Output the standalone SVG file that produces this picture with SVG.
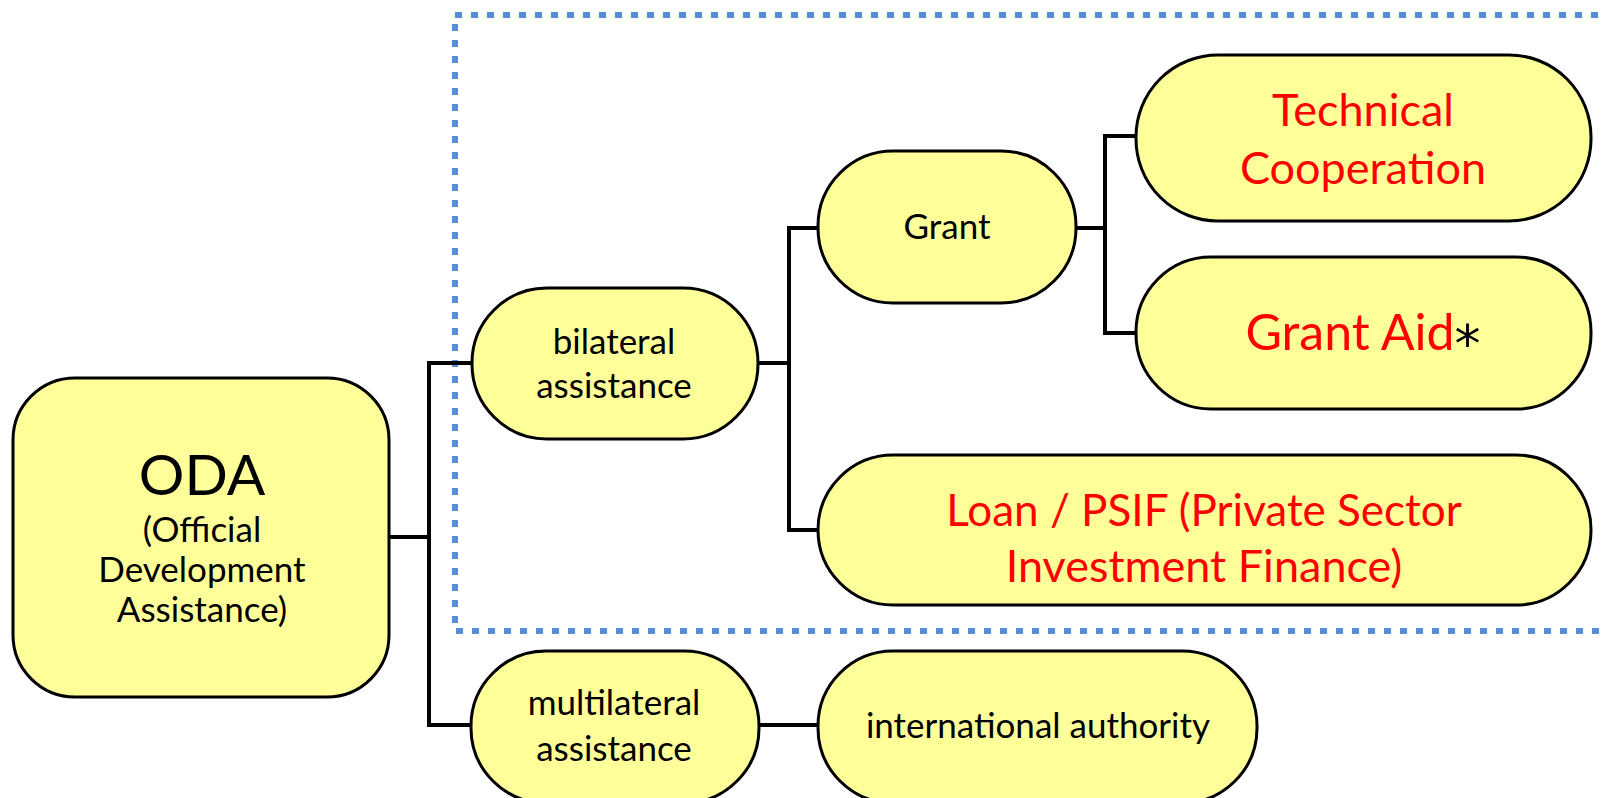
<svg xmlns="http://www.w3.org/2000/svg" width="1602" height="798" viewBox="0 0 1602 798">
<style>
.node{fill:#FFFF99;stroke:#000;stroke-width:3}
.t{font-family:Lato,"Open Sans",sans-serif;fill:#000;text-anchor:middle}
.s{font-size:35px}
.r{fill:#FF0000}
.conn{fill:none;stroke:#000;stroke-width:4}
</style>
<rect width="1602" height="798" fill="#fff"/>
<rect x="455" y="15" width="1160" height="616" fill="none" stroke="#558ED5" stroke-width="6" stroke-dasharray="7 9"/>
<g id="connectors">
<polyline class="conn" points="389,537 429,537"/>
<polyline class="conn" points="472,363 429,363 429,725 472,725"/>
<polyline class="conn" points="758,363 789,363"/>
<polyline class="conn" points="818,228 789,228 789,530 818,530"/>
<polyline class="conn" points="1076,228 1105,228"/>
<polyline class="conn" points="1136,136 1105,136 1105,333 1136,333"/>
<polyline class="conn" points="759,725 818,725"/>
</g>
<g id="oda">
<rect class="node" x="13" y="378" width="376" height="319" rx="62" ry="62"/>
<text class="t" x="202" y="495" font-size="57">ODA</text>
<text class="t" x="202" y="542" font-size="35">(Official</text>
<text class="t" x="202" y="582" font-size="35">Development</text>
<text class="t" x="202" y="622" font-size="35">Assistance)</text>
</g>
<g id="bilateral">
<rect class="node" x="472" y="288" width="286" height="151" rx="75" ry="75"/>
<text class="t s" x="614" y="354">bilateral</text>
<text class="t s" x="614" y="398">assistance</text>
</g>
<g id="grant">
<rect class="node" x="818" y="151" width="258" height="152" rx="75" ry="75"/>
<text class="t s" x="947" y="239">Grant</text>
</g>
<g id="techcoop">
<rect class="node" x="1136" y="55" width="455" height="166" rx="82" ry="82"/>
<text class="t r" x="1363" y="126" font-size="45">Technical</text>
<text class="t r" x="1363" y="184" font-size="45">Cooperation</text>
</g>
<g id="grantaid">
<rect class="node" x="1136" y="257" width="455" height="152" rx="75" ry="75"/>
<text class="t" x="1363" y="350" font-size="50"><tspan class="r">Grant Aid</tspan><tspan font-family="DejaVu Sans" font-size="52" dy="12">*</tspan></text>
</g>
<g id="loan">
<rect class="node" x="818" y="455" width="773" height="150" rx="75" ry="75"/>
<text class="t r" x="1204" y="526" font-size="44">Loan / PSIF (Private Sector</text>
<text class="t r" x="1204" y="582" font-size="45">Investment Finance)</text>
</g>
<g id="multilateral">
<rect class="node" x="471" y="651" width="288" height="152" rx="75" ry="75"/>
<text class="t s" x="614" y="715">multilateral</text>
<text class="t s" x="614" y="761">assistance</text>
</g>
<g id="intl">
<rect class="node" x="818" y="651" width="439" height="152" rx="75" ry="75"/>
<text class="t s" x="1038" y="738">international authority</text>
</g>
</svg>
